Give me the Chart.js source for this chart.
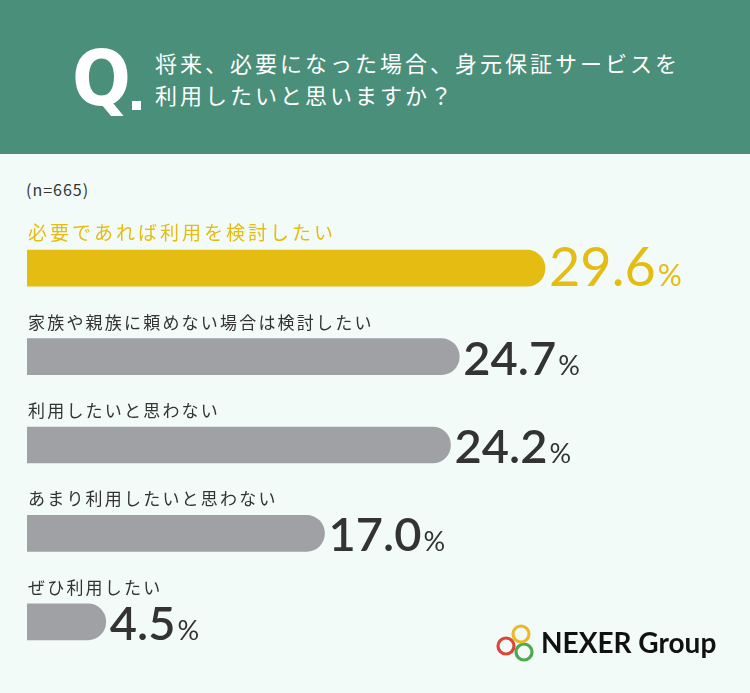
<!DOCTYPE html>
<html lang="ja">
<head>
<meta charset="utf-8">
<script src="https://cdn.jsdelivr.net/npm/chart.js@4.4.1/dist/chart.umd.min.js"></script>
<style>
  html,body{margin:0;padding:0;}
  body{width:750px;height:693px;background:#f2fbf8;position:relative;overflow:hidden;font-family:"Noto Sans CJK JP","Noto Sans",sans-serif;}
  #header{position:absolute;left:0;top:0;width:750px;height:154px;background:#4a8f79;}
  #q{position:absolute;left:72px;top:40px;font-family:"Liberation Sans Narrow","DejaVu Sans Condensed",sans-serif;font-weight:bold;font-size:77px;line-height:77px;color:#fff;}
  #qdot{position:absolute;left:132px;top:101px;width:9px;height:9px;background:#fff;}
  #title{position:absolute;left:155px;top:46px;font-size:22px;line-height:32px;letter-spacing:3px;color:#fff;white-space:nowrap;}
  #n{position:absolute;left:26px;top:178px;font-size:16px;line-height:22px;color:#333;letter-spacing:1px;}
  #chart{position:absolute;left:0;top:0;}
  #logo{position:absolute;left:490px;top:618px;}
  #logotext{position:absolute;left:541px;top:628px;font-family:Lato,"Liberation Sans",sans-serif;font-weight:bold;font-size:28px;line-height:28px;color:#111;white-space:nowrap;}
</style>
</head>
<body>
<div id="header">
  <div id="q">Q</div>
  <div id="qdot"></div>
  <div id="title">将来、必要になった場合、身元保証サービスを<br>利用したいと思いますか？</div>
</div>
<div id="n">(n=665)</div>
<canvas id="chart" width="750" height="693"></canvas>
<svg id="logo" width="50" height="50" viewBox="0 0 50 50">
  <circle cx="16" cy="28" r="8" fill="none" stroke="#d9473b" stroke-width="3.2"/>
  <circle cx="34" cy="34" r="8" fill="none" stroke="#4ea84f" stroke-width="3.2"/>
  <circle cx="31" cy="16" r="8" fill="none" stroke="#ecb92a" stroke-width="3.2"/>
</svg>
<div id="logotext">NEXER Group</div>
<script>
const categories = [
  "必要であれば利用を検討したい",
  "家族や親族に頼めない場合は検討したい",
  "利用したいと思わない",
  "あまり利用したいと思わない",
  "ぜひ利用したい"
];
const values = [29.6, 24.7, 24.2, 17.0, 4.5];
const highlightIndex = 0;

const GOLD = "#e5bc12";
const GRAY = "#a0a1a5";
const DARK = "#333333";

const labelPlugin = {
  id: "barLabels",
  afterDatasetsDraw(chart) {
    const ctx = chart.ctx;
    const meta = chart.getDatasetMeta(0);
    const left = chart.chartArea.left;
    meta.data.forEach((bar, i) => {
      const hl = i === highlightIndex;
      const top = bar.y - bar.height / 2;
      const bottom = bar.y + bar.height / 2;
      ctx.save();
      // category label above bar
      ctx.fillStyle = hl ? GOLD : DARK;
      ctx.font = (hl ? "19px" : "17px") + ' "Noto Sans CJK JP", sans-serif';
      ctx.letterSpacing = hl ? "3px" : "2.2px";
      ctx.textBaseline = "alphabetic";
      ctx.textAlign = "left";
      ctx.fillText(categories[i], left + 1, top - 10);
      // value label
      ctx.letterSpacing = "0px";
      const num = values[i].toFixed(1);
      const numFont = hl ? '400 54px Lato, "Liberation Sans", sans-serif' : '600 47px Lato, "Liberation Sans", sans-serif';
      ctx.font = numFont;
      ctx.fillStyle = hl ? GOLD : DARK;
      const x0 = bar.x + 4;
      ctx.fillText(num, x0, bottom);
      const w = ctx.measureText(num).width;
      ctx.font = (hl ? '400 30px' : '400 27px') + ' Lato, "Liberation Sans", sans-serif';
      ctx.fillText("%", x0 + w + 2, bottom);
      ctx.restore();
    });
  }
};

new Chart(document.getElementById("chart"), {
  type: "bar",
  data: {
    labels: categories,
    datasets: [{
      data: values,
      backgroundColor: values.map((v, i) => i === highlightIndex ? GOLD : GRAY),
      borderRadius: 18,
      borderSkipped: "start",
      barThickness: 36
    }]
  },
  options: {
    indexAxis: "y",
    responsive: false,
    animation: false,
    devicePixelRatio: 1,
    layout: { padding: { left: 27, right: 23, top: 224, bottom: 27 } },
    scales: {
      x: { display: false, min: 0, max: 40 },
      y: { display: false }
    },
    plugins: { legend: { display: false }, tooltip: { enabled: false } }
  },
  plugins: [labelPlugin]
});
</script>
</body>
</html>
